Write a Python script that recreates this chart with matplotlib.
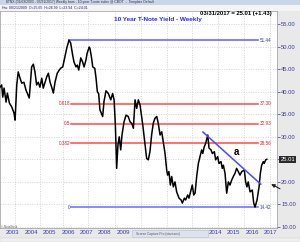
import matplotlib
matplotlib.use("Agg")
import matplotlib.pyplot as plt
from matplotlib.patches import Rectangle

plt.rcParams['font.family'] = ['Liberation Sans', 'DejaVu Sans']

# ---- data: weekly 10-year T-note yield index ($TNX), decimal years ----
years = [
    2002.75, 2002.84, 2002.90, 2002.97, 2003.08, 2003.15, 2003.26, 2003.39, 2003.51, 2003.57,
    2003.66, 2003.74, 2003.84, 2003.93, 2004.05, 2004.16, 2004.23, 2004.34, 2004.47, 2004.56,
    2004.65, 2004.74, 2004.83, 2004.92, 2005.02, 2005.10, 2005.20, 2005.29, 2005.38, 2005.47,
    2005.56, 2005.65, 2005.74, 2005.86, 2005.97, 2006.07, 2006.16, 2006.24, 2006.38, 2006.50,
    2006.59, 2006.70, 2006.77, 2006.88, 2006.95, 2007.03, 2007.14, 2007.24, 2007.32, 2007.42,
    2007.49, 2007.60, 2007.64, 2007.73, 2007.79, 2007.90, 2007.97, 2008.04, 2008.11, 2008.18,
    2008.33, 2008.40, 2008.51, 2008.64, 2008.77, 2008.87, 2008.95, 2009.02, 2009.09, 2009.16,
    2009.23, 2009.31, 2009.38, 2009.49, 2009.60, 2009.72, 2009.82, 2009.91, 2010.00, 2010.09,
    2010.18, 2010.27, 2010.36, 2010.51, 2010.59, 2010.72, 2010.81, 2010.90, 2010.99, 2011.08,
    2011.17, 2011.27, 2011.35, 2011.45, 2011.54, 2011.62, 2011.72, 2011.81, 2011.86, 2011.93,
    2012.01, 2012.08, 2012.17, 2012.26, 2012.35, 2012.48, 2012.59, 2012.66, 2012.77, 2012.84,
    2012.95, 2013.02, 2013.13, 2013.20, 2013.28, 2013.35, 2013.44, 2013.53, 2013.62, 2013.71,
    2013.77, 2013.85, 2013.93, 2014.04, 2014.11, 2014.22, 2014.29, 2014.40, 2014.47, 2014.58,
    2014.65, 2014.76, 2014.83, 2014.89, 2014.98, 2015.07, 2015.16, 2015.25, 2015.34, 2015.43,
    2015.52, 2015.61, 2015.70, 2015.79, 2015.89, 2016.03, 2016.10, 2016.17, 2016.24, 2016.34,
    2016.46, 2016.54, 2016.61, 2016.72, 2016.83, 2016.90, 2016.97, 2017.06, 2017.11, 2017.19,
    2017.25,
]
tnx = [
    41.0, 41.5, 38.8, 40.8, 37.7, 39.7, 37.5, 36.6, 35.3, 33.7,
    41.5, 44.4, 43.0, 41.9, 42.1, 40.4, 39.7, 38.6, 45.5, 46.1,
    44.4, 41.5, 42.1, 41.0, 43.0, 40.8, 42.1, 43.3, 44.1, 42.1,
    41.0, 39.7, 42.1, 44.1, 44.8, 45.3, 45.5, 47.0, 49.7, 51.44,
    50.8, 48.1, 46.6, 45.5, 45.9, 44.8, 47.5, 46.6, 45.5, 47.0,
    48.6, 49.9, 49.6, 47.4, 45.5, 45.2, 43.0, 40.0, 39.6, 36.0,
    34.5, 37.8, 40.2, 39.6, 38.2, 39.6, 38.2, 32.6, 23.0, 28.2,
    30.0, 27.1, 30.4, 33.3, 34.8, 34.5, 33.3, 33.0, 31.9, 38.2,
    36.3, 38.2, 37.1, 32.6, 29.7, 25.2, 24.9, 26.7, 30.4, 33.0,
    34.1, 34.5, 33.0, 30.4, 31.1, 28.9, 26.3, 22.6, 21.5, 22.3,
    19.3, 21.2, 18.9, 20.0, 17.8, 16.4, 16.0, 15.3, 16.4, 16.0,
    17.1, 16.4, 18.2, 19.3, 17.1, 17.5, 21.2, 24.1, 25.6, 27.1,
    26.3, 27.8, 28.6, 30.4, 27.5, 27.1, 26.3, 26.7, 24.9, 25.6,
    24.1, 24.5, 23.0, 23.7, 21.9, 17.5, 20.0, 19.3, 20.4, 21.2,
    21.9, 23.0, 22.3, 21.5, 22.3, 22.6, 20.0, 18.9, 20.0, 17.8,
    18.2, 15.3, 14.42, 16.0, 18.9, 21.9, 23.7, 24.5, 24.1, 24.9,
    25.01,
]

# Fibonacci retracement levels
fib_ratios = ["0", "0.382", "0.5", "0.618"]
fib_values = [14.42, 28.56, 32.93, 37.30]
fib_high = 51.44
fib_start, fib_end = 2006.61, 2016.77

# trend line "a"
trend_years = [2013.78, 2016.92]
trend_values = [31.06, 19.5]

# visible year labels (2010-2013 are hidden under a screen-capture tooltip)
year_labels = ["2003", "2004", "2005", "2006", "2007", "2008", "2009",
               "2014", "2015", "2016", "2017"]
ytick_values = [10, 15, 20, 25, 30, 35, 40, 45, 50, 55]
last_value = 25.01

# ---- figure ----
W, H = 300, 242
fig = plt.figure(figsize=(W / 100, H / 100), dpi=100, facecolor="#e9e9e9")

def fy(py):
    return 1 - py / H

def fx(px):
    return px / W

ax = fig.add_axes([0, fy(228), fx(277), fy(11) - fy(228)])
ax.set_facecolor("white")
ax.set_xlim(2002.75, 2002.75 + 277 / 18.4)
ax.set_ylim(9.78, 57.9)

# grid
for g in [2003.55, 2004.93, 2006.17, 2007.53, 2009.0, 2010.4, 2011.8, 2013.2, 2014.6, 2016.0, 2017.4]:
    ax.axvline(g, color="#c8c8c8", lw=0.5, ls=(0, (1.5, 2)), zorder=0)
for v in ytick_values:
    ax.axhline(v, color="#c8c8c8", lw=0.5, ls=(0, (1.5, 2)), zorder=0)

# price line
ax.plot(years, tnx, color="black", lw=1.1, zorder=3, solid_joinstyle="round")

# fib lines
blue = "#6b6bff"
red = "#ff4a4a"
ax.plot([2006.5, fib_end], [fib_high, fib_high], color=blue, lw=1.2, zorder=2)
ax.text(fib_end + 0.1, fib_high, f"{fib_high:.2f}", color="#3a3ad0", fontsize=3.3,
        va="center", ha="left")
for r, v in zip(fib_ratios, fib_values):
    col = blue if r == "0" else red
    tcol = "#3a3ad0" if r == "0" else "#e02020"
    ax.plot([fib_start, fib_end], [v, v], color=col, lw=1.1, zorder=2)
    ax.text(fib_start - 0.05, v, r, color=tcol, fontsize=3.3, va="center", ha="right")
    ax.text(fib_end + 0.1, v, f"{v:.2f}", color=tcol, fontsize=3.3, va="center", ha="left")

# trend line
ax.plot(trend_years, trend_values, color="#4a4aff", lw=1.1, zorder=4)
ax.text(2015.58, 26.6, "a", fontsize=7, fontweight="bold", color="black",
        ha="center", va="center")

# arrow
ax.annotate("", xy=(2017.35, 19.8), xytext=(2018.1, 18.2),
            arrowprops=dict(arrowstyle="-|>", color="#222222", lw=0.8,
                            mutation_scale=5),
            annotation_clip=False, zorder=6)

# titles
ax.text(2002.75 + 158 / 18.4, 56.0, "10 Year T-Note Yield - Weekly", color="#2b2bff",
        fontsize=4.6, fontweight="bold", ha="center", va="center")
ax.text(2002.75 + 272 / 18.4, 57.4, "03/31/2017 = 25.01 (+1.43)", color="black",
        fontsize=4.2, fontweight="bold", ha="right", va="center")

# axes styling
ax.yaxis.tick_right()
ax.set_yticks(ytick_values)
ax.set_yticklabels(["" if v == 25 else f"{v:.2f}" for v in ytick_values])
ax.tick_params(axis="y", colors="#3b3b9a", labelsize=4.2, length=2, width=0.5, pad=1)
ax.set_xticks([int(y) + 0.45 for y in year_labels])
ax.set_xticklabels(year_labels)
ax.tick_params(axis="x", colors="#3a3ab8", labelsize=4.4, length=0, pad=1.5)
for s in ax.spines.values():
    s.set_color("#9a9a9a")
    s.set_linewidth(0.5)

# last value box
ax.text(1.012, (last_value - 9.78) / (57.9 - 9.78), f"{last_value:.2f}", transform=ax.transAxes,
        fontsize=4.2, color="white", ha="left", va="center",
        bbox=dict(boxstyle="square,pad=0.15", fc="#2a2a2a", ec="none"))

# window chrome
fig.patches.append(Rectangle((0, fy(5)), 1, 1 - fy(5), transform=fig.transFigure,
                             fc="#c9d5e8", ec="none", zorder=0))
fig.patches.append(Rectangle((0, fy(11)), 1, fy(5) - fy(11), transform=fig.transFigure,
                             fc="#f4f4f4", ec="none", zorder=0))
fig.text(fx(6), fy(2.5), "$TNX (01/03/2003 - 03/31/2017) Weekly bars - 10-year T-note index @ CBOT  -  Template Default",
         fontsize=2.4, color="#333333", va="center", ha="left")
fig.text(fx(2), fy(8), "Hw: 08/21/2009  O=25.65  H=26.99  L=23.94  C=24.01",
         fontsize=2.5, color="#22226a", va="center", ha="left")
fig.text(fx(1), fy(226.5), "© MetaStock", fontsize=2.0, color="#555555", va="center")
fig.patches.append(Rectangle((fx(132), fy(237)), fx(76), fy(230) - fy(237),
                             transform=fig.transFigure, fc="#dde3ee", ec="#b8c0d0",
                             lw=0.4, zorder=5))
fig.text(fx(136), fy(233.5), "Screen Capture Pro (start ans)", fontsize=2.3,
         color="#555555", va="center", zorder=6)
fig.patches.append(Rectangle((0, 0), 1, fy(238), transform=fig.transFigure,
                             fc="#f0f0f0", ec="#cccccc", lw=0.3, zorder=0))

fig.savefig("out.png", dpi=100, facecolor=fig.get_facecolor())
